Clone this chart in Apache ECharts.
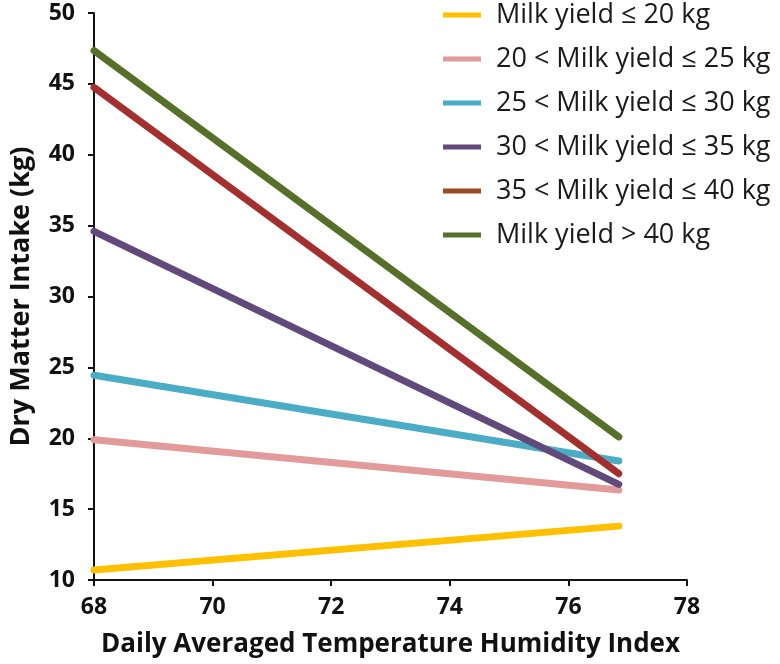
<!DOCTYPE html>
<html><head><meta charset="utf-8">
<script src="https://cdn.jsdelivr.net/npm/echarts@6/dist/echarts.min.js"></script>
<style>html,body{margin:0;padding:0;background:#fff}#c{width:780px;height:664px}</style>
</head><body><div id="c"></div>
<script>
const seriesNames = ["Milk yield ≤ 20 kg","20 < Milk yield ≤ 25 kg","25 < Milk yield ≤ 30 kg","30 < Milk yield ≤ 35 kg","35 < Milk yield ≤ 40 kg","Milk yield > 40 kg"];
const thiStart = 68;
const thiEnd = 76.85;
const dmiStart = [10.7, 19.9, 24.45, 34.6, 44.75, 47.35];
const dmiEnd = [13.8, 16.35, 18.4, 16.75, 17.5, 20.1];
const lineColors = ["#FFC000","#E29A9A","#4BACC6","#604A7B","#A3302F","#56702A"];
const legendColors = ["#FFC000","#E29A9A","#4BACC6","#604A7B","#9C4A22","#56702A"];
const xTicks = [68,70,72,74,76,78];
const yTicks = [10,15,20,25,30,35,40,45,50];

const chart = echarts.init(document.getElementById('c'));
const font = "Open Sans";
chart.setOption({
  animation:false,
  backgroundColor:'#fff',
  grid:{left:90,right:93,top:13,bottom:84,containLabel:false},
  legend:{
    orient:'vertical', left:443, top:0, itemWidth:38, itemHeight:5, itemGap:14,
    icon:'rect', padding:0,
    textStyle:{fontFamily:font,fontSize:27,lineHeight:30,color:'#1a1a1a',padding:[0,0,0,10]},
    data: seriesNames.map((n,i)=>({name:n,itemStyle:{color:legendColors[i]}}))
  },
  xAxis:{
    type:'value', min:xTicks[0], max:xTicks[xTicks.length-1], interval:2,
    name:'Daily Averaged Temperature Humidity Index', nameLocation:'middle', nameGap:52,
    nameTextStyle:{fontFamily:font,fontWeight:'bold',fontSize:26,color:'#111'},
    axisLine:{lineStyle:{color:'#111',width:2}},
    axisTick:{show:true,length:6,lineStyle:{color:'#111',width:2}},
    axisLabel:{fontFamily:font,fontWeight:'bold',fontSize:23,color:'#111',margin:16},
    splitLine:{show:false}
  },
  yAxis:{
    type:'value', min:yTicks[0], max:yTicks[yTicks.length-1], interval:5,
    name:'Dry Matter Intake (kg)', nameLocation:'middle', nameGap:59, nameRotate:90,
    nameTextStyle:{fontFamily:font,fontWeight:'bold',fontSize:27,color:'#111'},
    axisLine:{show:true,lineStyle:{color:'#111',width:2}},
    axisTick:{show:true,length:6,lineStyle:{color:'#111',width:2}},
    axisLabel:{fontFamily:font,fontWeight:'bold',fontSize:23,color:'#111',margin:19},
    splitLine:{show:false}
  },
  series: seriesNames.map((n,i)=>({
    name:n, type:'line', symbol:'none', clip:true,
    lineStyle:{color:lineColors[i],width:7,cap:'round'},
    itemStyle:{color:lineColors[i]},
    data:[[thiStart,dmiStart[i]],[thiEnd,dmiEnd[i]]]
  }))
});
</script></body></html>
